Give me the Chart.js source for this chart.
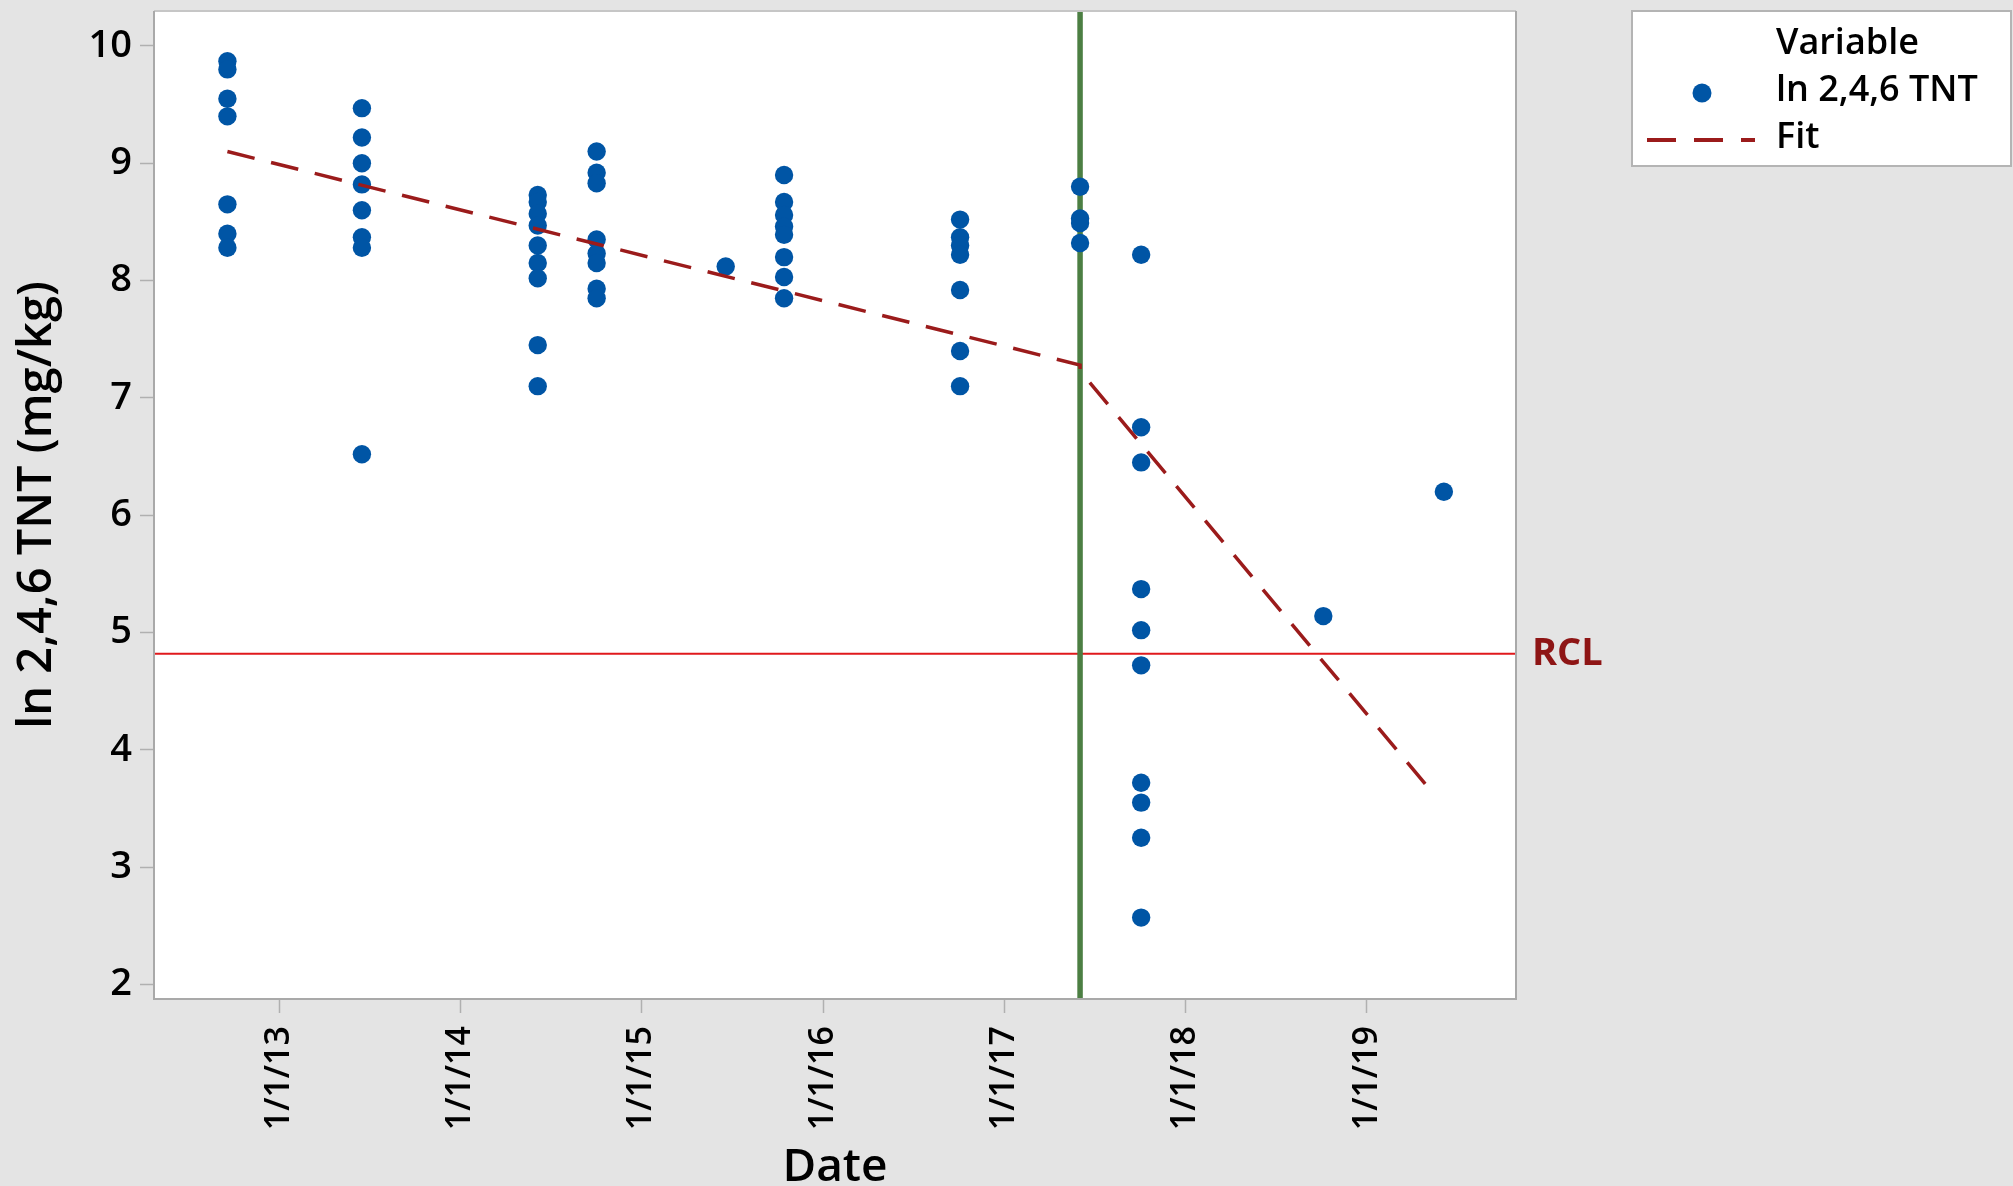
<!DOCTYPE html>
<html>
<head>
<meta charset="utf-8">
<script src="https://cdn.jsdelivr.net/npm/chart.js@4.4.1/dist/chart.umd.min.js"></script>
<style>
  html, body { margin: 0; padding: 0; background: #e4e4e4; }
  #wrap { width: 2013px; height: 1186px; position: relative; }
</style>
</head>
<body>
<div id="wrap"><canvas id="chart"></canvas></div>
<script>
// Sampling events (decimal years) and ln-transformed 2,4,6-TNT results at each event
const samplingDates = [2012.714, 2013.456, 2014.426, 2014.751, 2015.463, 2015.785, 2016.756, 2017.418, 2017.755, 2018.760, 2019.425];
const lnTnt = [
  [9.87, 9.80, 9.55, 9.40, 8.65, 8.40, 8.28],
  [9.47, 9.22, 9.00, 8.82, 8.60, 8.37, 8.28, 6.52],
  [8.73, 8.67, 8.57, 8.47, 8.30, 8.15, 8.02, 7.45, 7.10],
  [9.10, 8.92, 8.83, 8.35, 8.23, 8.15, 7.93, 7.85],
  [8.12],
  [8.90, 8.67, 8.56, 8.46, 8.39, 8.20, 8.03, 7.85],
  [8.52, 8.37, 8.30, 8.22, 7.92, 7.40, 7.10],
  [8.80, 8.53, 8.49, 8.32],
  [8.22, 6.75, 6.45, 5.37, 5.02, 4.72, 3.72, 3.55, 3.25, 2.57],
  [5.14],
  [6.20]
];

// Piecewise trend (before / after treatment)
const fitDates = [2012.714, 2017.418, 2017.418, 2019.36];
const fitValues = [9.10, 7.28, 7.23, 3.64];

// Reference markers
const treatmentDate = 2017.418;
const rclValue = 4.82;

// Axes
const xTickYears = [2013, 2014, 2015, 2016, 2017, 2018, 2019];
const xTickLabels = ['1/1/13', '1/1/14', '1/1/15', '1/1/16', '1/1/17', '1/1/18', '1/1/19'];
const yTicks = [2, 3, 4, 5, 6, 7, 8, 9, 10];
const xRange = [2012.309, 2019.823];
const yRange = [1.876, 10.298];

const FONT = '"Open Sans", "Noto Sans", sans-serif';
const BLUE = '#0055a5';
const FIT_RED = '#9b1b1b';

const points = [];
samplingDates.forEach((d, i) => lnTnt[i].forEach(v => points.push({ x: d, y: v })));

const frame = {
  id: 'frame',
  beforeDraw(chart) {
    const { ctx, chartArea: a } = chart;
    ctx.save();
    ctx.fillStyle = '#e4e4e4';
    ctx.fillRect(0, 0, chart.width, chart.height);
    ctx.fillStyle = '#ffffff';
    ctx.fillRect(a.left, a.top, a.right - a.left, a.bottom - a.top);
    ctx.restore();
  },
  afterDraw(chart) {
    const { ctx, chartArea: a, scales } = chart;
    ctx.save();
    ctx.strokeStyle = '#c6c6c6';
    ctx.lineWidth = 2;
    ctx.beginPath();
    ctx.moveTo(a.left, a.top); ctx.lineTo(a.right, a.top);
    ctx.stroke();
    ctx.strokeStyle = '#a9a9a9';
    ctx.beginPath();
    ctx.moveTo(a.left, a.top); ctx.lineTo(a.left, a.bottom); ctx.lineTo(a.right, a.bottom); ctx.lineTo(a.right, a.top);
    ctx.stroke();

    // RCL label beside the reference line
    const y = scales.y.getPixelForValue(rclValue);
    ctx.fillStyle = '#8e1515';
    ctx.font = '700 38px ' + FONT;
    ctx.textBaseline = 'middle';
    ctx.textAlign = 'left';
    ctx.fillText('RCL', a.right + 16, y + 1);

    // Legend box
    const ptsSet = chart.data.datasets.find(d => d.id === 'pts');
    const fitSet = chart.data.datasets.find(d => d.id === 'fit');
    const bx = 1632, by = 11, bw = 379, bh = 155;
    ctx.fillStyle = '#ffffff';
    ctx.fillRect(bx, by, bw, bh);
    ctx.strokeStyle = '#b4b4b4';
    ctx.lineWidth = 2;
    ctx.strokeRect(bx, by, bw, bh);
    ctx.fillStyle = '#000000';
    ctx.font = '600 36px ' + FONT;
    ctx.textBaseline = 'alphabetic';
    ctx.fillText('Variable', 1776, 54);
    ctx.fillText(ptsSet.label, 1776, 101);
    ctx.fillText(fitSet.label, 1776, 148);
    ctx.fillStyle = ptsSet.backgroundColor;
    ctx.beginPath();
    ctx.arc(1702, 93, 9.5, 0, Math.PI * 2);
    ctx.fill();
    ctx.strokeStyle = fitSet.borderColor;
    ctx.lineWidth = 4;
    ctx.setLineDash([29, 18]);
    ctx.beginPath();
    ctx.moveTo(1647, 140); ctx.lineTo(1755, 140);
    ctx.stroke();
    ctx.restore();
  }
};

new Chart(document.getElementById('chart'), {
  type: 'scatter',
  data: {
    datasets: [
      {
        id: 'fit', label: 'Fit', type: 'line', order: 0,
        data: fitDates.map((d, i) => ({ x: d, y: fitValues[i] })),
        borderColor: FIT_RED, borderWidth: 3.5, borderDash: [28, 17],
        pointRadius: 0, fill: false, tension: 0
      },
      {
        id: 'pts', label: 'ln 2,4,6 TNT', order: 1,
        data: points,
        backgroundColor: BLUE, borderWidth: 0, pointRadius: 9.2, pointHoverRadius: 9.2
      },
      {
        id: 'treat', label: 'Treatment', type: 'line', order: 2,
        data: [{ x: treatmentDate, y: yRange[0] }, { x: treatmentDate, y: yRange[1] }],
        borderColor: '#4c7f43', borderWidth: 5.5, pointRadius: 0, fill: false
      },
      {
        id: 'rcl', label: 'RCL', type: 'line', order: 3,
        data: [{ x: xRange[0], y: rclValue }, { x: xRange[1], y: rclValue }],
        borderColor: '#e0191c', borderWidth: 2, pointRadius: 0, fill: false
      }
    ]
  },
  options: {
    responsive: true,
    maintainAspectRatio: false,
    devicePixelRatio: 1,
    animation: false,
    layout: { padding: { top: 11, right: 497, left: 0, bottom: 0 } },
    plugins: { legend: { display: false }, tooltip: { enabled: false } },
    scales: {
      x: {
        type: 'linear',
        min: xRange[0], max: xRange[1],
        afterBuildTicks(s) { s.ticks = xTickYears.map(v => ({ value: v })); },
        afterFit(s) { s.height = 187; s.paddingLeft = 0; s.paddingRight = 0; },
        grid: { drawOnChartArea: false, drawTicks: true, tickLength: 14, tickColor: '#b0b0b0', tickWidth: 1.5 },
        border: { display: false },
        ticks: {
          autoSkip: false, minRotation: 90, maxRotation: 90, padding: 13,
          color: '#000', font: { family: FONT, size: 34, weight: '600' },
          callback(v) { const i = xTickYears.indexOf(v); return i >= 0 ? xTickLabels[i] : ''; }
        },
        title: {
          display: true, text: 'Date', color: '#000',
          font: { family: FONT, size: 46, weight: '600', lineHeight: 0.8 },
          padding: { top: 0, bottom: 0 }
        }
      },
      y: {
        type: 'linear',
        min: yRange[0], max: yRange[1],
        afterBuildTicks(s) { s.ticks = yTicks.map(v => ({ value: v })); },
        afterFit(s) { s.width = 154; s.paddingTop = 0; s.paddingBottom = 0; },
        grid: { drawOnChartArea: false, drawTicks: true, tickLength: 14, tickColor: '#b0b0b0', tickWidth: 1.5 },
        border: { display: false },
        ticks: {
          padding: 8, color: '#000', font: { family: FONT, size: 38, weight: '600' },
          callback(v) { return String(v); }
        },
        title: {
          display: true, text: 'ln 2,4,6 TNT (mg/kg)', color: '#000',
          font: { family: FONT, size: 47, weight: '600', lineHeight: 1.2 },
          padding: { top: 9, bottom: 0 }
        }
      }
    }
  },
  plugins: [frame]
});
</script>
</body>
</html>
